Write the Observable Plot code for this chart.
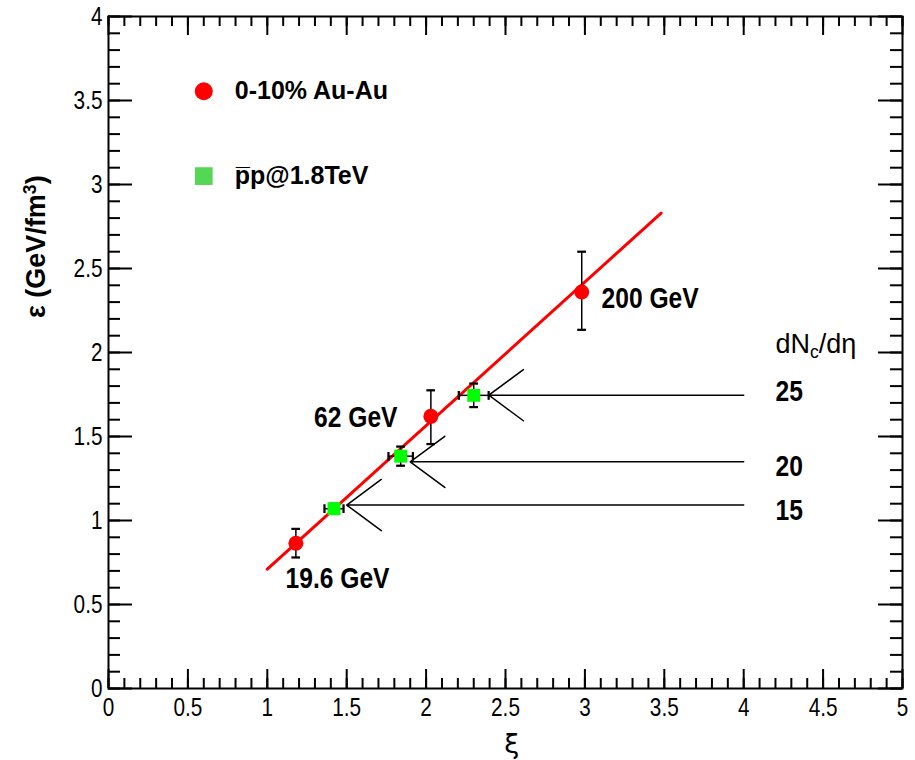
<!DOCTYPE html>
<html><head><meta charset="utf-8">
<script src="https://cdn.jsdelivr.net/npm/d3@7"></script>
<script src="https://cdn.jsdelivr.net/npm/@observablehq/plot@0.6"></script>
<style>body{margin:0;background:#fff}</style>
</head><body><div id="chart"></div>
<script>
// ---------- data ----------
const xTicks = [0, 0.5, 1, 1.5, 2, 2.5, 3, 3.5, 4, 4.5, 5];
const yTicks = [0, 0.5, 1, 1.5, 2, 2.5, 3, 3.5, 4];

// 0-10% Au-Au
const auLabels = ["19.6 GeV", "62 GeV", "200 GeV"];
const auX  = [1.18, 2.03, 2.98];
const auY  = [0.865, 1.62, 2.36];
const auLo = [0.78, 1.455, 2.135];
const auHi = [0.95, 1.775, 2.60];
const auLabelX = [1.115, 1.82, 3.105];
const auLabelY = [0.656, 1.611, 2.32];
const auLabelAnchor = ["start", "end", "start"];

// pbar-p @ 1.8 TeV
const ppX    = [1.42, 1.84, 2.30];
const ppY    = [1.07, 1.383, 1.745];
const ppXErr = [0.06, 0.077, 0.094];
const ppYErr = [0.03, 0.057, 0.07];

// linear fit line
const fitX = [1.0, 3.48];
const fitY = [0.71, 2.83];

// dNc/deta arrows
const dndetaTitle = "dNc/dη";
const dndetaLabels = ["15", "20", "25"];
const arrowY = [1.092, 1.349, 1.746];
const arrowFromX = [4.0, 4.0, 4.0];
const arrowToX = [1.50, 1.90, 2.395];
const dndetaLabelX = 4.2;
const dndetaLabelY = [1.058, 1.32, 1.769];
const dndetaTitleY = 2.05;

// legend
const legendLabels = ["0-10% Au-Au", "p\u0305p@1.8TeV"];
const legendX = 0.6;
const legendTextX = 0.795;
const legendY = [3.555, 3.05];

const xLabel = "ξ";
const yLabel = "ε (GeV/fm3)";

// ---------- layout ----------
const W = 915, H = 760, mL = 108, mR = 13, mT = 16, mB = 72;
const fw = W - mL - mR, fh = H - mT - mB;
const FONT = '"Liberation Sans",Arial,sans-serif';
const RED = "#ff0000", GREEN = "#00ff00", LGREEN = "#55d655";

const minorX = d3.range(0, 51).map(i => i / 10);
const minorY = d3.range(0, 41).map(i => i / 10);
const idx3 = [0, 1, 2];
const byAnchor = a => idx3.filter(i => auLabelAnchor[i] === a);

const chart = Plot.plot({
  width: W, height: H,
  marginLeft: mL, marginRight: mR, marginTop: mT, marginBottom: mB,
  x: {domain: [0, 5]},
  y: {domain: [0, 4]},
  style: {fontFamily: FONT, fontSize: "25px", background: "white", color: "black"},
  marks: [
    Plot.axisX({ticks: xTicks, tickSize: 0, tickPadding: 10, tickFormat: d => String(d), label: null}),
    Plot.axisY({ticks: yTicks, tickSize: 0, tickPadding: 6, tickFormat: d => String(d), label: null}),
    // inward ticks: bottom / top
    Plot.tickX(minorX, {x: d => d, insetTop: fh - 10, stroke: "black", strokeWidth: 2}),
    Plot.tickX(xTicks, {x: d => d, insetTop: fh - 19, stroke: "black", strokeWidth: 2}),
    Plot.tickX(minorX, {x: d => d, insetBottom: fh - 10, stroke: "black", strokeWidth: 2}),
    Plot.tickX(xTicks, {x: d => d, insetBottom: fh - 19, stroke: "black", strokeWidth: 2}),
    // inward ticks: left / right
    Plot.tickY(minorY, {y: d => d, insetRight: fw - 12, stroke: "black", strokeWidth: 2}),
    Plot.tickY(yTicks, {y: d => d, insetRight: fw - 24, stroke: "black", strokeWidth: 2}),
    Plot.tickY(minorY, {y: d => d, insetLeft: fw - 12, stroke: "black", strokeWidth: 2}),
    Plot.tickY(yTicks, {y: d => d, insetLeft: fw - 24, stroke: "black", strokeWidth: 2}),
    Plot.frame({stroke: "black", strokeWidth: 2}),

    // fit line
    Plot.line(fitX.map((x, i) => ({x, y: fitY[i]})), {x: "x", y: "y", stroke: RED, strokeWidth: 3}),

    // arrows
    Plot.arrow(idx3, {x1: i => arrowFromX[i], x2: i => arrowToX[i], y1: i => arrowY[i], y2: i => arrowY[i],
      stroke: "black", strokeWidth: 1.5, headLength: 43, headAngle: 73}),

    // error bars Au-Au
    Plot.link(idx3, {x1: i => auX[i], x2: i => auX[i], y1: i => auLo[i], y2: i => auHi[i],
      stroke: "black", strokeWidth: 1.5, markerStart: "tick", markerEnd: "tick"}),
    // error bars pp
    Plot.link(idx3, {x1: i => ppX[i] - ppXErr[i], x2: i => ppX[i] + ppXErr[i], y1: i => ppY[i], y2: i => ppY[i],
      stroke: "black", strokeWidth: 1.5, markerStart: "tick", markerEnd: "tick"}),
    Plot.link(idx3, {x1: i => ppX[i], x2: i => ppX[i], y1: i => ppY[i] - ppYErr[i], y2: i => ppY[i] + ppYErr[i],
      stroke: "black", strokeWidth: 1.5, markerStart: "tick", markerEnd: "tick"}),

    // markers
    Plot.dot(idx3, {x: i => ppX[i], y: i => ppY[i], symbol: "square", r: 7.3, fill: GREEN}),
    Plot.dot(idx3, {x: i => auX[i], y: i => auY[i], r: 7.5, fill: RED}),

    // energy labels
    Plot.text(byAnchor("start"), {x: i => auLabelX[i], y: i => auLabelY[i], text: i => auLabels[i],
      textAnchor: "start", fontWeight: "bold", fontSize: 30, fill: "black"}),
    Plot.text(byAnchor("end"), {x: i => auLabelX[i], y: i => auLabelY[i], text: i => auLabels[i],
      textAnchor: "end", fontWeight: "bold", fontSize: 30, fill: "black"}),

    // dNc/deta labels
    Plot.text([dndetaTitle], {x: dndetaLabelX, y: dndetaTitleY, text: d => d, textAnchor: "start", fontSize: 27, fill: "black"}),
    Plot.text(idx3, {x: dndetaLabelX, y: i => dndetaLabelY[i], text: i => dndetaLabels[i], textAnchor: "start",
      fontWeight: "bold", fontSize: 30, fill: "black"}),

    // legend
    Plot.dot([0], {x: legendX, y: legendY[0], r: 9, fill: RED}),
    Plot.dot([1], {x: legendX, y: legendY[1], r: 10, symbol: "square", fill: LGREEN}),
    Plot.text([0, 1], {x: legendTextX, y: i => legendY[i], text: i => legendLabels[i], textAnchor: "start",
      fontWeight: "bold", fontSize: 25, fill: "black"}),

    // axis titles
    Plot.text([xLabel], {x: 2.54, y: 0, dy: 56, text: d => d, fontSize: 27, fill: "black",
      fontFamily: '"DejaVu Sans",sans-serif', clip: false}),
    Plot.text([yLabel], {x: 0, y: 2.63, dx: -72, rotate: -90, text: d => d, fontSize: 27, fontWeight: "bold",
      fill: "black", textAnchor: "middle"})
  ]
});

// sub/superscripts
d3.select(chart).selectAll("text").each(function () {
  const t = d3.select(this);
  const s = this.textContent;
  if (s === yLabel) {
    t.text(null);
    t.append("tspan").text("ε (GeV/fm");
    t.append("tspan").attr("dy", "-0.55em").attr("font-size", "0.65em").text("3");
    t.append("tspan").attr("dy", "0.36em").text(")");
  } else if (s === dndetaTitle) {
    t.text(null);
    t.append("tspan").text("dN");
    t.append("tspan").attr("dy", "0.3em").attr("font-size", "0.65em").text("c");
    t.append("tspan").attr("dy", "-0.2em").text("/dη");
  }
});

document.getElementById("chart").appendChild(chart);

// condensed look of the original ROOT fonts
function narrowText(el, f) {
  const L = el.getComputedTextLength();
  if (L > 0) {
    el.setAttribute("textLength", (L * f).toFixed(1));
    el.setAttribute("lengthAdjust", "spacingAndGlyphs");
  }
}
const tickSet = new Set([...xTicks, ...yTicks].map(String));
const narrowSet = new Set([...auLabels, ...dndetaLabels]);
d3.select(chart).selectAll("g").each(function () {
  const a = this.getAttribute("aria-label") || "";
  if (a.endsWith("tick label")) {
    d3.select(this).selectAll("text").each(function () {
      if (tickSet.has(this.textContent)) narrowText(this, 0.83);
    });
  }
});
d3.select(chart).selectAll("text").each(function () {
  if (narrowSet.has(this.textContent)) narrowText(this, 0.82);
});
</script></body></html>
